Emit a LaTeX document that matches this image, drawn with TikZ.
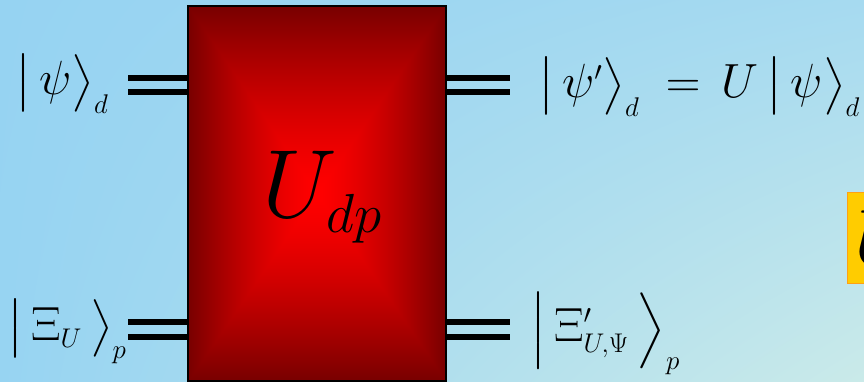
\documentclass[tikz,border=0pt]{standalone}
\usepackage{fix-cm}
\usepackage{amsmath,amssymb}
\usepackage{graphicx}
\usepackage{xcolor}
\usetikzlibrary{positioning,shadings}

\DeclareMathSizes{48}{48}{27}{20}
\DeclareMathSizes{97}{97}{55}{40}

\definecolor{skyTL}{RGB}{150,211,242}
\definecolor{skyTR}{RGB}{166,218,240}
\definecolor{skyBL}{RGB}{151,212,242}
\definecolor{skyBR}{RGB}{202,234,233}
\definecolor{boxgold}{RGB}{255,204,0}
\definecolor{boxrim}{RGB}{255,160,20}

% bright red centre, dark red towards the rim of the box
\pgfdeclarefunctionalshading{gateglow}{\pgfpoint{-50bp}{-50bp}}{\pgfpoint{50bp}{50bp}}{}{
  abs exch abs 2 copy lt {exch} if pop
  25 div dup 1 gt {pop 1} if
  1.4 exp -0.53 mul 1 add 0 0
}

\newcommand{\tallbar}{\scalebox{1}[0.88]{$\Bigl|$}}
\newcommand{\tallket}{\scalebox{1}[0.88]{$\Bigr\rangle$}}

\tikzset{
  ket/.style={inner sep=0pt, anchor=base west, font=\fontsize{48}{70}\selectfont},
  wire/.style={line width=5.5pt, black},
  gatebox/.style={draw=black, line width=1.3pt, shade, shading=gateglow,
    minimum width=258pt, minimum height=375pt, inner sep=0pt},
  goldbox/.style={draw=boxrim, line width=1.3pt, fill=boxgold, anchor=north west,
    minimum height=91pt, minimum width=60pt, inner xsep=7pt, inner ysep=0pt,
    font=\fontsize{80}{84}\selectfont}
}

\begin{document}
\begin{tikzpicture}[x=1pt,y=-1pt]
\useasboundingbox (0,0) rectangle (864,382);
\clip (0,0) rectangle (864,382);
\shade[upper left=skyTL, upper right=skyTR, lower left=skyBL, lower right=skyBR]
  (0,0) rectangle (864,382);

% the gate
\node[gatebox] (gate) at (317,193.5) {};
\node[inner sep=0pt, anchor=base west, font=\fontsize{97}{100}\selectfont]
  (udp) at (262,218) {$U_{dp}$};

% kets
\node[ket] (psiin) at (15,95) {$\bigl|\,\psi\bigr\rangle_{d}$};
\node[ket] (psiout) at (538,98)
  {$\bigl|\,\psi'\bigr\rangle_{d}\;=\,U\,\bigl|\,\psi\bigr\rangle_{d}$};
\node[ket] (xiin) at (7,340) {$\bigl|\,\Xi_{U}\,\bigr\rangle_{p}$};
\node[ket] (xiout) at (530,341) {$\tallbar\,\Xi'_{U,\Psi}\,\tallket_{p}$};

% double wires
\coordinate (inA) at (128,78);
\coordinate (inB) at (128,92);
\coordinate (inC) at (128,322);
\coordinate (inD) at (128,337);
\coordinate (outA) at (510,78);
\coordinate (outB) at (510,92);
\coordinate (outC) at (510,322);
\coordinate (outD) at (510,337);
\foreach \w in {A,B,C,D}{
  \draw[wire] (in\w) -- (in\w -| gate.west);
  \draw[wire] (gate.east |- out\w) -- (out\w);
}

% box at the right edge
\node[goldbox] (ubox) at (847,192) {$U$};
\end{tikzpicture}
\end{document}
